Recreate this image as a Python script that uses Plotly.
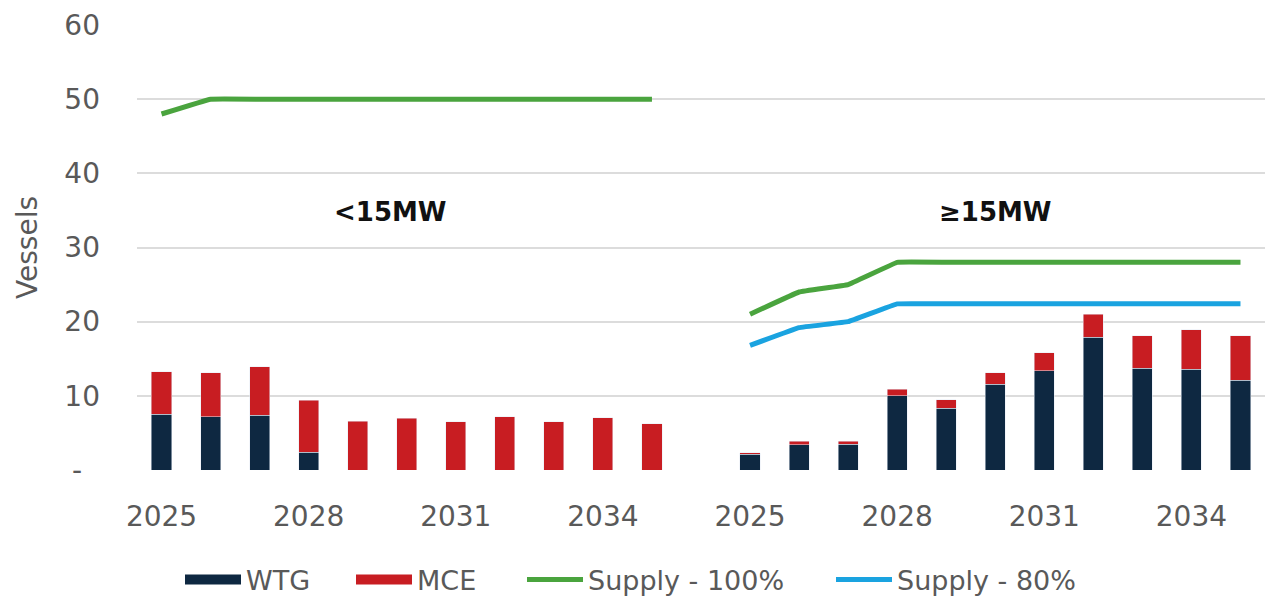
import plotly.graph_objects as go

years = [2025, 2026, 2027, 2028, 2029, 2030, 2031, 2032, 2033, 2034, 2035]

# <15MW segment
lt15_wtg = [7.5, 7.2, 7.4, 2.4, 0, 0, 0, 0, 0, 0, 0]
lt15_mce = [5.75, 5.9, 6.5, 7.0, 6.6, 7.0, 6.5, 7.2, 6.5, 7.05, 6.25]
lt15_supply100 = [48, 50, 50, 50, 50, 50, 50, 50, 50, 50, 50]

# >=15MW segment
ge15_wtg = [2.1, 3.4, 3.5, 10.0, 8.3, 11.55, 13.4, 17.9, 13.7, 13.6, 12.1]
ge15_mce = [0.2, 0.5, 0.4, 0.9, 1.15, 1.55, 2.4, 3.1, 4.4, 5.3, 6.0]
ge15_supply100 = [21, 24, 25, 28, 28, 28, 28, 28, 28, 28, 28]
ge15_supply80 = [16.8, 19.2, 20, 22.4, 22.4, 22.4, 22.4, 22.4, 22.4, 22.4, 22.4]

tick_years = [2025, 2028, 2031, 2034]
segment_labels = ["<15MW", "≥15MW"]

NAVY = "#0E2841"
RED = "#C81D22"
GREEN = "#4AA43E"
BLUE = "#1AA3E0"
GREY = "#595959"
FONT = "DejaVu Sans"

x1 = [y - years[0] for y in years]
x2 = [y - years[0] + len(years) + 1 for y in years]

fig = go.Figure()
fig.add_bar(x=x1, y=lt15_wtg, name="WTG", marker_color=NAVY, legendgroup="wtg", showlegend=False)
fig.add_bar(x=x1, y=lt15_mce, name="MCE", marker_color=RED, legendgroup="mce", showlegend=False)
fig.add_bar(x=x2, y=ge15_wtg, name="WTG", marker_color=NAVY, legendgroup="wtg", showlegend=False)
fig.add_bar(x=x2, y=ge15_mce, name="MCE", marker_color=RED, legendgroup="mce", showlegend=False)

# legend-only keys drawn as thick strokes to resemble the reference's rectangles
fig.add_scatter(x=[None], y=[None], mode="lines", name="WTG", legendgroup="wtg", legend="legend",
                line=dict(color=NAVY, width=18))
fig.add_scatter(x=[None], y=[None], mode="lines", name="MCE", legendgroup="mce", legend="legend2",
                line=dict(color=RED, width=18))

lkw = dict(shape="spline", smoothing=0.15, width=5)
fig.add_scatter(x=x1, y=lt15_supply100, mode="lines", name="Supply - 100%", legendgroup="s100",
                legend="legend3", line=dict(color=GREEN, **lkw))
fig.add_scatter(x=x2, y=ge15_supply100, mode="lines", name="Supply - 100%", legendgroup="s100",
                showlegend=False, line=dict(color=GREEN, **lkw))
fig.add_scatter(x=x2, y=ge15_supply80, mode="lines", name="Supply - 80%", legendgroup="s80",
                legend="legend4", line=dict(color=BLUE, **lkw))

tickvals = [y - years[0] for y in tick_years] + [y - years[0] + len(years) + 1 for y in tick_years]
ticktext = [str(y) for y in tick_years] * 2

fig.add_annotation(x=(x1[0] + x1[-1]) / 2 - 0.33, y=34.8, text="<b>" + segment_labels[0] + "</b>",
                   showarrow=False, font=dict(family=FONT, size=26, color="#111111"))
fig.add_annotation(x=(x2[0] + x2[-1]) / 2, y=34.8, text="<b>" + segment_labels[1] + "</b>",
                   showarrow=False, font=dict(family=FONT, size=26, color="#111111"))


def leg(px):
    return dict(orientation="h", xref="container", x=px / 1268, xanchor="left",
                yref="container", y=0.035, yanchor="middle", bgcolor="rgba(0,0,0,0)",
                font=dict(family=FONT, size=27, color=GREY), itemwidth=56)


fig.update_layout(
    width=1268, height=601,
    margin=dict(l=137, r=3, t=25, b=131),
    paper_bgcolor="white", plot_bgcolor="white",
    barmode="stack", bargap=0.59,
    font=dict(family=FONT, color=GREY, size=27),
    showlegend=True,
    legend=leg(180), legend2=leg(351), legend3=leg(522), legend4=leg(831),
    xaxis=dict(range=[-0.5, len(x1) + len(x2) + 0.5], tickmode="array", tickvals=tickvals, ticktext=ticktext,
               showgrid=False, zeroline=False, showline=False, ticks="", tickfont=dict(size=28, color=GREY),
               ticklabelstandoff=27),
    yaxis=dict(range=[0, 60], tickmode="array", tickvals=[0, 10, 20, 30, 40, 50, 60],
               ticktext=["-\u2007", "10", "20", "30", "40", "50", "60"],
               showgrid=True, gridcolor="#DCDCDC", gridwidth=1.5, zeroline=False, showline=False,
               ticks="", tickfont=dict(size=28, color=GREY), ticklabelstandoff=36,
               title=dict(text="Vessels", font=dict(size=28, color=GREY), standoff=18)),
)

fig.write_html("out.html")
